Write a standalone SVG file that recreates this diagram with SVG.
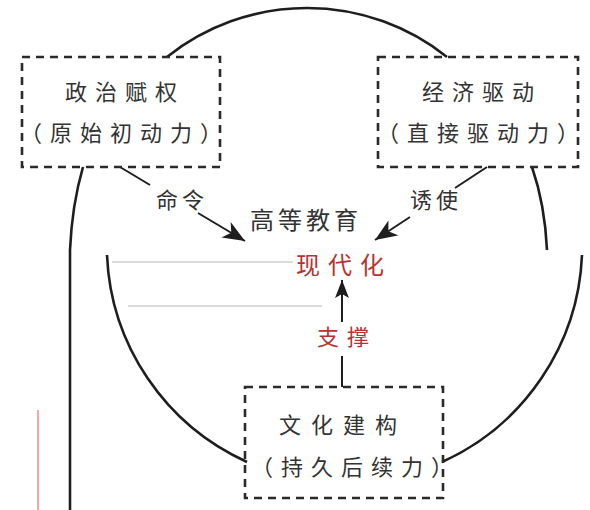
<svg xmlns="http://www.w3.org/2000/svg" width="590" height="510" viewBox="0 0 590 510">
<defs>
<style>
.box{fill:none;stroke:#2a2a2a;stroke-width:2.6;stroke-dasharray:8 6}
.t{font-family:"Noto Sans CJK SC","Noto Sans CJK TC",sans-serif;fill:#333;text-anchor:middle}
.b22{font-size:22px;letter-spacing:8px}
.red{fill:#b83232}
.ln{fill:none;stroke:#1e1e1e;stroke-width:2.6}
.thin{fill:none;stroke:#1e1e1e;stroke-width:2}
.art{fill:none;stroke:#cfcfcf;stroke-width:1.5}
</style>
<marker id="ah" markerUnits="userSpaceOnUse" markerWidth="26" markerHeight="20" refX="22" refY="9" orient="auto">
<path d="M0,0 L22,9 L0,18 L6,9 z" fill="#1e1e1e"/>
</marker>
<marker id="au" markerUnits="userSpaceOnUse" markerWidth="22" markerHeight="18" refX="18" refY="7" orient="auto">
<path d="M0,0 L18,7 L0,14 L4,7 z" fill="#1e1e1e"/>
</marker>
</defs>
<rect width="590" height="510" fill="#fff"/>

<g id="artifacts">
<line class="art" x1="112" y1="262" x2="293" y2="262"/>
<line class="art" x1="128" y1="306" x2="322" y2="306"/>
<line x1="38" y1="410" x2="38" y2="510" stroke="#f08a8a" stroke-width="1.5"/>
</g>

<g id="connectors">
<path class="ln" d="M167,57 A224.5,224.5 0 0 1 447,57"/>
<path class="ln" d="M83,167 Q72,205 70,250 L70,510"/>
<path class="ln" d="M532,167 Q545,205 547,250"/>
<path class="ln" d="M107,255 A238,238 0 0 0 247,462"/>
<path class="ln" d="M582,255 A238,238 0 0 1 442,462"/>
<line class="thin" x1="120" y1="167" x2="150" y2="185"/>
<line class="thin" x1="198" y1="213" x2="245" y2="241" marker-end="url(#ah)"/>
<line class="thin" x1="487" y1="167" x2="455" y2="188"/>
<line class="thin" x1="410" y1="217" x2="375" y2="240" marker-end="url(#ah)"/>
<line class="thin" x1="342" y1="387" x2="342" y2="356"/>
<line class="thin" x1="342" y1="322" x2="342" y2="280" marker-end="url(#au)"/>
<text class="t b22" x="182" y="208" style="letter-spacing:4px">命令</text>
<text class="t b22" x="436" y="208" style="letter-spacing:4px">诱使</text>
<text class="t b22 red" x="347" y="345">支撑</text>
</g>

<g id="node-politics">
<rect class="box" x="22" y="57" width="198" height="110"/>
<text class="t b22" x="125" y="100">政治赋权</text>
<text class="t b22" x="125" y="141">（原始初动力）</text>
</g>

<g id="node-economy">
<rect class="box" x="378" y="57" width="200" height="110"/>
<text class="t b22" x="482" y="100">经济驱动</text>
<text class="t b22" x="482" y="141">（直接驱动力）</text>
</g>

<g id="node-center">
<text class="t" x="306" y="229" style="font-size:24px;letter-spacing:4px">高等教育</text>
<text class="t red" x="344" y="274" style="font-size:24px;letter-spacing:8px">现代化</text>
</g>

<g id="node-culture">
<rect class="box" x="245" y="387" width="198" height="111"/>
<text class="t b22" x="343" y="433" style="letter-spacing:10px">文化建构</text>
<text class="t b22" x="356" y="475">（持久后续力）</text>
</g>
</svg>
